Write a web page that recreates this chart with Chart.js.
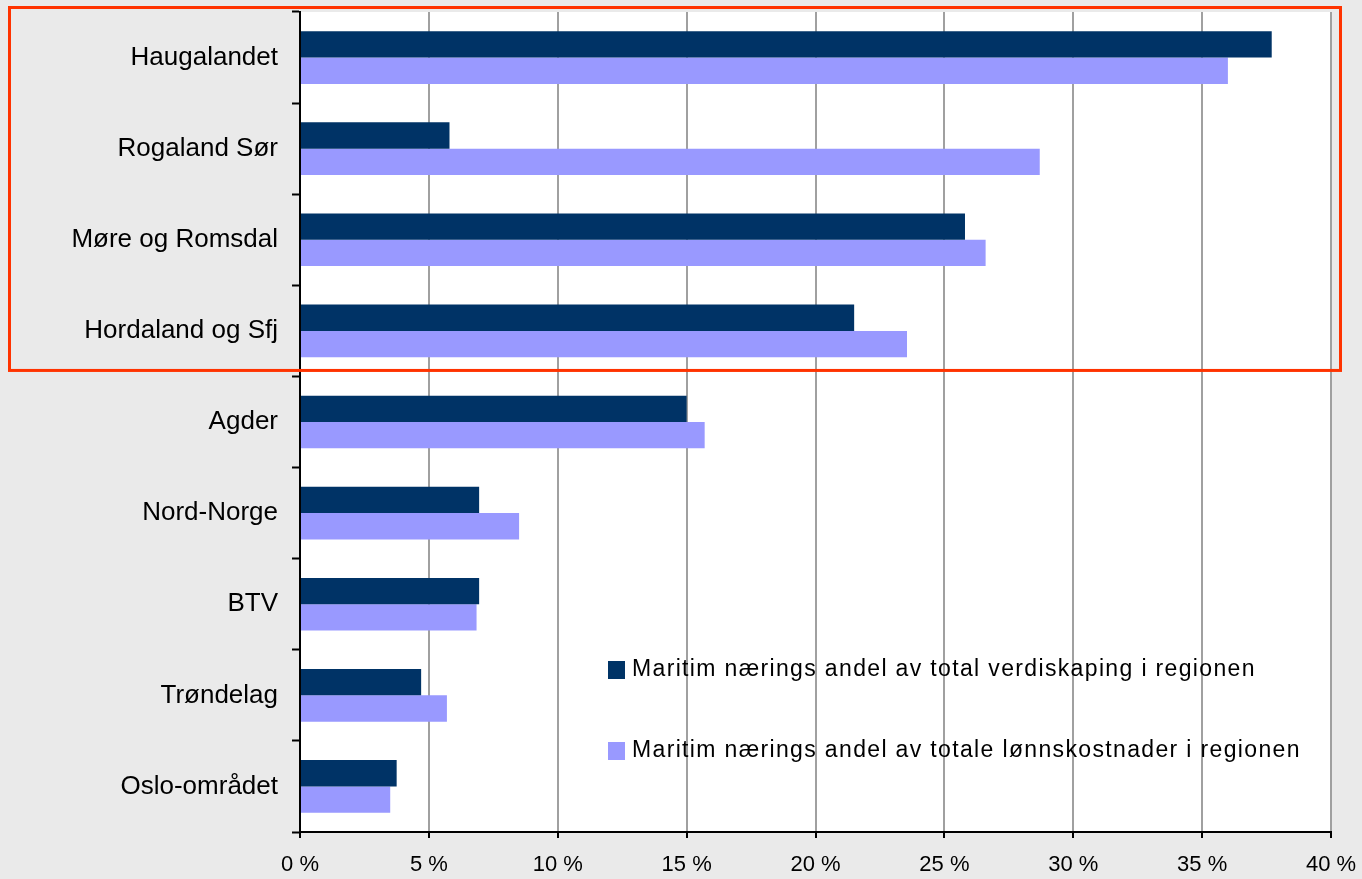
<!DOCTYPE html>
<html>
<head>
<meta charset="utf-8">
<script src="https://cdn.jsdelivr.net/npm/chart.js@4/dist/chart.umd.min.js"></script>
<style>
  html, body { margin: 0; padding: 0; background: #eaeaea; }
  canvas { display: block; }
</style>
</head>
<body>
<canvas id="barChart" width="1362" height="879"></canvas>
<script>
const regions = ['Haugalandet', 'Rogaland Sør', 'Møre og Romsdal', 'Hordaland og Sfj', 'Agder', 'Nord-Norge', 'BTV', 'Trøndelag', 'Oslo-området'];
const verdiskaping = [37.7, 5.8, 25.8, 21.5, 15.0, 6.95, 6.95, 4.7, 3.75];
const lonnskostnader = [36.0, 28.7, 26.6, 23.55, 15.7, 8.5, 6.85, 5.7, 3.5];
const seriesNames = [
  'Maritim nærings andel av total verdiskaping i regionen',
  'Maritim nærings andel av totale lønnskostnader i regionen'
];
const xTicks = [0, 5, 10, 15, 20, 25, 30, 35, 40];

const FONT = '"Liberation Sans", Arial, sans-serif';

// white plot area on grey page
const plotBg = {
  id: 'plotBg',
  beforeDraw(chart) {
    const a = chart.chartArea, c = chart.ctx;
    c.save();
    c.fillStyle = '#ffffff';
    c.fillRect(a.left, a.top, a.right - a.left, a.bottom - a.top);
    c.restore();
  }
};

// legend sits inside the plot, lower right
const innerLegend = {
  id: 'innerLegend',
  afterDraw(chart) {
    const a = chart.chartArea, c = chart.ctx;
    c.save();
    c.font = '23px ' + FONT;
    c.letterSpacing = '1.35px';
    c.textBaseline = 'middle';
    chart.data.datasets.forEach((ds, i) => {
      const x = a.left + 308;
      const y = 670 + i * 81;
      c.fillStyle = ds.backgroundColor;
      c.fillRect(x, y - 9, 17, 18);
      c.fillStyle = '#000';
      c.fillText(ds.label, x + 24, y);
    });
    c.restore();
  }
};

// red frame round the four top regions
const highlight = {
  id: 'highlight',
  afterDraw(chart) {
    const y = chart.scales.y, c = chart.ctx;
    const bottom = y.getPixelForValue(3.5) - 6;
    c.save();
    c.strokeStyle = '#ff3300';
    c.lineWidth = 3;
    c.strokeRect(9.5, 7.5, 1331, bottom - 7.5);
    c.restore();
  }
};

function noPad(s) {
  s.paddingTop = 0;
  s.paddingBottom = 0;
  s.paddingLeft = 0;
  s.paddingRight = 0;
}

const ctx = document.getElementById('barChart').getContext('2d');
const myChart = new Chart(ctx, {
  type: 'bar',
  data: {
    labels: regions,
    datasets: [{
      label: seriesNames[0],
      data: verdiskaping,
      backgroundColor: '#003366'
    }, {
      label: seriesNames[1],
      data: lonnskostnader,
      backgroundColor: '#9999ff'
    }]
  },
  options: {
    indexAxis: 'y',
    responsive: false,
    animation: false,
    layout: { padding: { top: 12, right: 31, left: 0, bottom: 0 } },
    datasets: {
      bar: { barPercentage: 1.0, categoryPercentage: 0.578, borderWidth: 0 }
    },
    plugins: {
      legend: { display: false },
      tooltip: { enabled: false }
    },
    scales: {
      x: {
        min: 0,
        max: 40,
        afterFit(s) { s.height = 47; noPad(s); },
        afterBuildTicks(s) { s.ticks = xTicks.map(v => ({ value: v })); },
        border: { color: '#000', width: 2 },
        grid: {
          color: '#a0a0a0',
          lineWidth: 2,
          tickColor: '#000',
          tickWidth: 2,
          tickLength: 6
        },
        ticks: {
          color: '#000',
          padding: 14,
          font: { family: FONT, size: 22 },
          callback: v => v + ' %'
        }
      },
      y: {
        afterFit(s) { s.width = 300; noPad(s); },
        border: { color: '#000', width: 2 },
        grid: {
          offset: true,
          drawOnChartArea: false,
          tickColor: '#000',
          tickWidth: 2,
          tickLength: 8
        },
        ticks: {
          color: '#000',
          padding: 14,
          font: { family: FONT, size: 26 }
        }
      }
    }
  },
  plugins: [plotBg, innerLegend, highlight]
});
</script>
</body>
</html>
